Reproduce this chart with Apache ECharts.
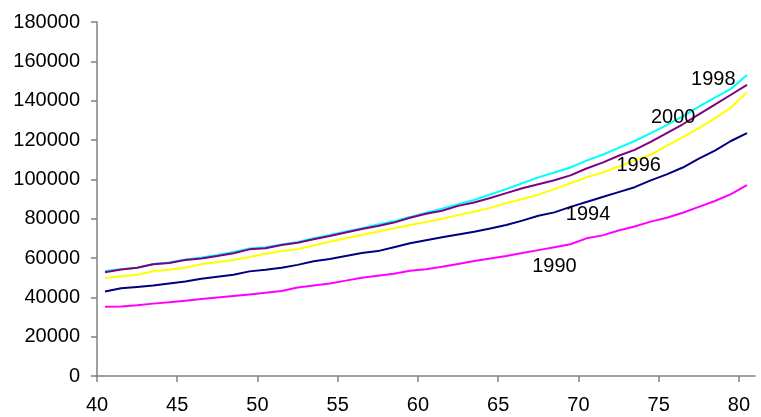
<!DOCTYPE html>
<html>
<head>
<meta charset="utf-8">
<script src="https://cdn.jsdelivr.net/npm/echarts@6/dist/echarts.min.js"></script>
<style>
  html, body { margin: 0; padding: 0; background: #fff; }
  #chart { width: 761px; height: 417px; }
</style>
</head>
<body>
<div id="chart"></div>
<script>
// ages 40.5 .. 80.5 (points sit between the ticks)
var ages = [];
for (var a = 40; a <= 80; a++) ages.push(a + 0.5);

var xTicks = [40, 45, 50, 55, 60, 65, 70, 75, 80];

var y1990 = [35200, 35300, 36000, 36800, 37500, 38300, 39100, 39900, 40700, 41500,
	42300, 43200, 45000, 46000, 47000, 48500, 50000, 51000, 52000, 53500,
	54300, 55500, 57000, 58500, 59800, 61000, 62500, 64000, 65500, 67000,
	70000, 71500, 74000, 76000, 78500, 80500, 83000, 86000, 89000, 92500, 97000];
var y1994 = [43000, 44600, 45300, 46000, 47000, 48000, 49500, 50500, 51500, 53200,
	54000, 55000, 56500, 58300, 59500, 61000, 62500, 63500, 65500, 67500,
	69000, 70500, 72000, 73300, 75000, 76800, 79000, 81500, 83200, 86000,
	88500, 91000, 93500, 96000, 99500, 102500, 106000, 110500, 114600, 119500, 123500];
var y1996 = [49800, 50700, 51500, 53300, 54000, 55200, 56800, 58000, 59000, 60500,
	62200, 63600, 64500, 66500, 68300, 70000, 71700, 73500, 75100, 76800,
	78300, 80000, 81800, 83500, 85500, 87800, 90000, 92200, 95000, 98000,
	101000, 103500, 106500, 109500, 112500, 117000, 121500, 126000, 131000, 136500, 144300];
var y1998 = [53400, 54300, 55100, 56900, 57700, 59200, 60200, 61500, 63000, 64800,
	65500, 66900, 68200, 70000, 71700, 73500, 75200, 77000, 78700, 80800,
	83000, 85000, 87300, 89500, 92300, 95000, 98000, 101000, 103500, 106000,
	109500, 112500, 116000, 119500, 123500, 127600, 132000, 137000, 141500, 146000, 153000];
var y2000 = [52700, 54200, 55000, 56800, 57500, 59000, 59800, 61000, 62400, 64400,
	65000, 66600, 67800, 69500, 71200, 73000, 74700, 76300, 78000, 80500,
	82500, 84000, 86500, 88200, 90500, 93000, 95500, 97500, 99500, 102000,
	105500, 108500, 112000, 115000, 119000, 123500, 128000, 133000, 138000, 143000, 148000];

// where each year's name is written, in data coordinates
var tagPos = {
	'1990': [68.5, 55900],
	'1994': [70.6, 81900],
	'1996': [73.75, 106800],
	'1998': [78.4, 151000],
	'2000': [75.9, 131700]
};

function pairs(ys) {
	return ys.map(function (v, i) { return [ages[i], v]; });
}

function makeSeries(name, ys, color) {
	return {
		name: name,
		type: 'line',
		data: pairs(ys),
		symbol: 'none',
		smooth: false,
		lineStyle: { color: color, width: 2 },
		itemStyle: { color: color },
		animation: false,
		markPoint: {
			symbol: 'circle',
			symbolSize: 0,
			silent: true,
			label: {
				show: true,
				formatter: name,
				position: 'inside',
				color: '#000',
				fontFamily: 'Liberation Sans, Arial, sans-serif',
				fontSize: 20
			},
			data: [{ coord: tagPos[name] }]
		}
	};
}

var axisColor = '#808080';
var labelFont = {
	color: '#000',
	fontFamily: 'Liberation Sans, Arial, sans-serif',
	fontSize: 20
};

var myChart = echarts.init(document.getElementById('chart'));
var option = {
	backgroundColor: '#fff',
	animation: false,
	grid: { left: 97, right: 6, top: 22, bottom: 41, containLabel: false },
	xAxis: {
		type: 'value',
		min: 40,
		max: 81,
		interval: 5,
		axisLine: { show: true, lineStyle: { color: axisColor, width: 1.5 } },
		axisTick: { show: true, length: 6, customValues: xTicks, lineStyle: { color: axisColor, width: 1.5 } },
		axisLabel: Object.assign({ margin: 19, customValues: xTicks }, labelFont),
		splitLine: { show: false }
	},
	yAxis: {
		type: 'value',
		min: 0,
		max: 180000,
		interval: 20000,
		axisLine: { show: true, lineStyle: { color: axisColor, width: 1.5 } },
		axisTick: { show: true, length: 6, lineStyle: { color: axisColor, width: 1.5 } },
		axisLabel: Object.assign({
			margin: 17,
			formatter: function (v) { return String(v); }
		}, labelFont),
		splitLine: { show: false }
	},
	series: [
		makeSeries('1990', y1990, '#ff00ff'),
		makeSeries('1994', y1994, '#000080'),
		makeSeries('1996', y1996, '#ffff00'),
		makeSeries('1998', y1998, '#00ffff'),
		makeSeries('2000', y2000, '#800080')
	]
};
myChart.setOption(option);
</script>
</body>
</html>
